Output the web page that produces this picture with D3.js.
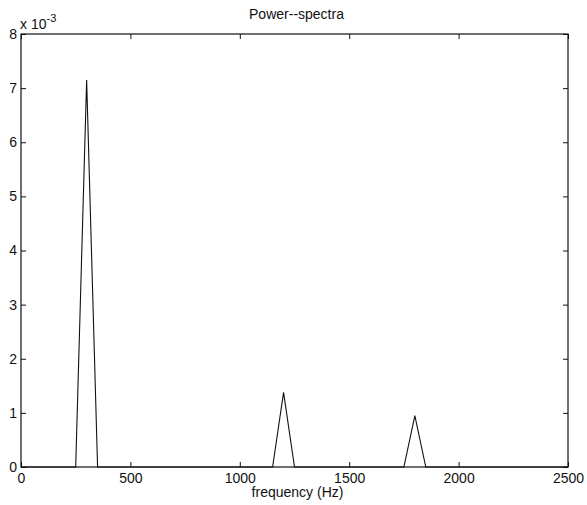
<!DOCTYPE html>
<html>
<head>
<meta charset="utf-8">
<script src="https://cdn.jsdelivr.net/npm/d3@7"></script>
<style>
  body { margin: 0; background: #fff; }
  text { font-family: "Liberation Sans", Arial, sans-serif; fill: #111; }
</style>
</head>
<body>
<svg id="plot" width="587" height="505"></svg>
<script>
// spectrum (frequency in Hz, power in units of 1e-3)
let freq  = [0, 250, 300, 350, 1150, 1200, 1250, 1750, 1800, 1850, 2500]
let power = [0, 0,   7.15, 0,  0,    1.38, 0,    0,    0.95, 0,    0]
let xTicks = [0, 500, 1000, 1500, 2000, 2500]
let yTicks = [0, 1, 2, 3, 4, 5, 6, 7, 8]

let plotLeft = 21, plotRight = 568, plotTop = 34, plotBottom = 467

let xScale = d3.scaleLinear().domain([0, 2500]).range([plotLeft, plotRight])
let yScale = d3.scaleLinear().domain([0, 8]).range([plotBottom, plotTop])
let svg = d3.select("#plot")

// frame
svg.append("rect")
    .attr("x", plotLeft).attr("y", plotTop)
    .attr("width", plotRight - plotLeft).attr("height", plotBottom - plotTop)
    .attr("fill", "none").attr("stroke", "#111").attr("stroke-width", 1.2)

// ticks pointing inward, mirrored on all four sides
let tl = 5
let xb = d3.axisBottom(xScale).tickValues(xTicks).tickSize(-tl).tickPadding(6).tickFormat(d3.format("d"))
let xt = d3.axisTop(xScale).tickValues(xTicks).tickSize(-tl).tickFormat("")
let yl = d3.axisLeft(yScale).tickValues(yTicks).tickSize(-tl).tickPadding(4)
let yr = d3.axisRight(yScale).tickValues(yTicks).tickSize(-tl).tickFormat("")

function styleAxis(g) {
    g.select(".domain").remove()
    g.selectAll("line").attr("stroke", "#111")
    g.selectAll("text").style("font-size", "14px").attr("fill", "#111")
}
svg.append("g").attr("transform", `translate(0,${plotBottom})`).call(xb).call(styleAxis)
svg.append("g").attr("transform", `translate(0,${plotTop})`).call(xt).call(styleAxis)
svg.append("g").attr("transform", `translate(${plotLeft},0)`).call(yl).call(styleAxis)
svg.append("g").attr("transform", `translate(${plotRight},0)`).call(yr).call(styleAxis)

// spectrum line
let line = d3.line().x((d, i) => xScale(freq[i])).y((d, i) => yScale(power[i]))
svg.append("path")
    .datum(power)
    .attr("d", line)
    .attr("fill", "none")
    .attr("stroke", "#111")
    .attr("stroke-width", 1.1)

// exponent label
let ex = svg.append("text").attr("x", plotLeft - 1).attr("y", plotTop - 5).style("font-size", "14px")
ex.append("tspan").text("x 10")
ex.append("tspan").attr("dy", -7).style("font-size", "11px").text("-3")

// title and x label
svg.append("text").attr("x", (plotLeft + plotRight) / 2 + 2).attr("y", 19)
    .attr("text-anchor", "middle").style("font-size", "14px").text("Power--spectra")
svg.append("text").attr("x", (plotLeft + plotRight) / 2 + 3).attr("y", 497)
    .attr("text-anchor", "middle").style("font-size", "14px").text("frequency (Hz)")
</script>
</body>
</html>
